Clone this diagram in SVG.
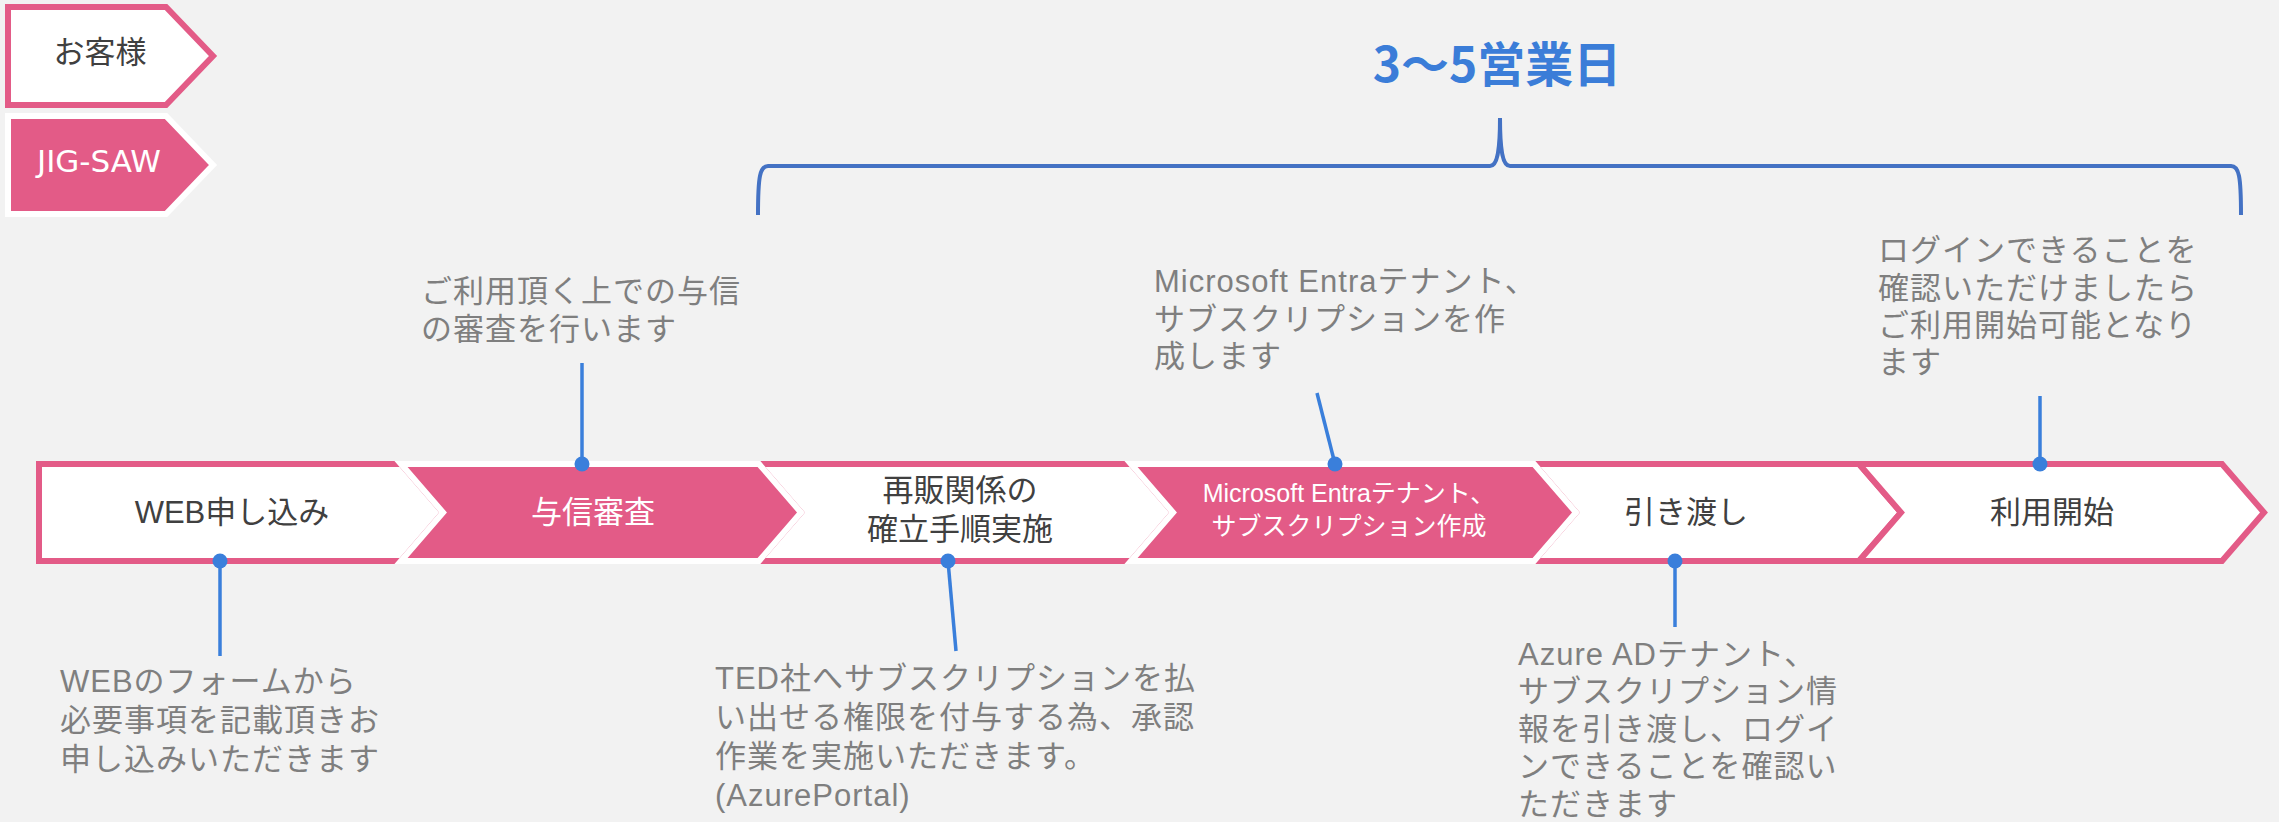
<svg xmlns="http://www.w3.org/2000/svg" width="2279" height="822" viewBox="0 0 2279 822">
<style>
.bg{fill:#F2F2F2}
.cw{fill:#FFFFFF;stroke:#E35B87;stroke-width:6;stroke-linejoin:miter}
.cp{fill:#E35B87;stroke:#FFFFFF;stroke-width:6;stroke-linejoin:miter}
.lbl{font-family:"Liberation Sans","Noto Sans CJK JP",sans-serif;font-size:31px;fill:#404040;text-anchor:middle}
.lblw{font-family:"Liberation Sans","Noto Sans CJK JP",sans-serif;font-size:31px;fill:#FFFFFF;text-anchor:middle}
.note{font-family:"Liberation Sans","Noto Sans CJK JP",sans-serif;font-size:31px;fill:#7F7F7F;letter-spacing:1px}
.conn{stroke:#3A7FDB;stroke-width:3.5;fill:none}
.dot{fill:#3A7FDB}
</style>
<rect class="bg" x="0" y="0" width="2279" height="822"/>

<g id="legend-customer">
<polygon class="cw" points="8,7 166,7 213,56 166,105 8,105" stroke-width="5"/>
<text class="lbl" x="100" y="63">お客様</text>
</g>
<g id="legend-jigsaw">
<polygon class="cp" points="8,116 166,116 213,165 166,214 8,214" stroke-width="5"/>
<text x="99" y="172" style="font-family:'DejaVu Sans','Noto Sans CJK JP',sans-serif;font-size:31px;fill:#FFFFFF;text-anchor:middle">JIG-SAW</text>
</g>

<g id="period">
<text x="1497" y="82" style="font-family:'Noto Sans CJK JP',sans-serif;font-size:48px;font-weight:bold;fill:#3B7DD8;text-anchor:middle">3〜5営業日</text>
<path d="M758,215 C758,176 760,166 768,166 L1490,166 C1497,166 1500,152 1500,118 C1500,152 1503,166 1510,166 L2231,166 C2239,166 2241,176 2241,215" fill="none" stroke="#4472C4" stroke-width="4"/>
</g>

<g id="step1-web">
<polygon class="cw" points="39,464 401,464 443,512.5 401,561 39,561"/>
<text class="lbl" x="232" y="523">WEB申し込み</text>
</g>
<g id="step3-resale">
<polygon class="cw" points="759,464 1131,464 1173,512.5 1131,561 759,561 801,512.5"/>
<text class="lbl" x="960" y="501">再販関係の<tspan x="960" dy="39">確立手順実施</tspan></text>
</g>
<g id="step5-handover">
<polygon class="cw" points="1534,464 1859,464 1901,512.5 1859,561 1534,561 1576,512.5"/>
<text class="lbl" x="1686" y="523">引き渡し</text>
</g>
<g id="step6-start">
<polygon class="cw" points="1859,464 2222,464 2264,512.5 2222,561 1859,561 1901,512.5"/>
<text class="lbl" x="2052" y="523">利用開始</text>
</g>
<g id="step2-credit">
<polygon class="cp" points="401,464 759,464 801,512.5 759,561 401,561 443,512.5"/>
<text class="lblw" x="593" y="523">与信審査</text>
</g>
<g id="step4-entra">
<polygon class="cp" points="1131,464 1534,464 1576,512.5 1534,561 1131,561 1173,512.5"/>
<text class="lblw" x="1349" y="502" style="font-size:25px">Microsoft Entraテナント、<tspan x="1349" dy="33">サブスクリプション作成</tspan></text>
</g>

<g id="connectors">
<line class="conn" x1="220" y1="561" x2="220" y2="656"/>
<circle class="dot" cx="220" cy="561" r="7.5"/>
<line class="conn" x1="582" y1="363" x2="582" y2="464"/>
<circle class="dot" cx="582" cy="464" r="7.5"/>
<line class="conn" x1="948" y1="561" x2="956" y2="651"/>
<circle class="dot" cx="948" cy="561" r="7.5"/>
<line class="conn" x1="1317" y1="393" x2="1335" y2="464"/>
<circle class="dot" cx="1335" cy="464" r="7.5"/>
<line class="conn" x1="1675" y1="561" x2="1675" y2="627"/>
<circle class="dot" cx="1675" cy="561" r="7.5"/>
<line class="conn" x1="2040" y1="396" x2="2040" y2="464"/>
<circle class="dot" cx="2040" cy="464" r="7.5"/>
</g>

<g id="note-credit">
<text class="note" x="421" y="302">ご利用頂く上での与信<tspan x="421" dy="38">の審査を行います</tspan></text>
</g>
<g id="note-entra">
<text class="note" x="1154" y="292">Microsoft Entraテナント、<tspan x="1154" dy="38">サブスクリプションを作</tspan><tspan x="1154" dy="37">成します</tspan></text>
</g>
<g id="note-start">
<text class="note" x="1878" y="261">ログインできることを<tspan x="1878" dy="38">確認いただけましたら</tspan><tspan x="1878" dy="37">ご利用開始可能となり</tspan><tspan x="1878" dy="37">ます</tspan></text>
</g>
<g id="note-web">
<text class="note" x="60" y="692">WEBのフォームから<tspan x="60" dy="39">必要事項を記載頂きお</tspan><tspan x="60" dy="39">申し込みいただきます</tspan></text>
</g>
<g id="note-resale">
<text class="note" x="715" y="689">TED社へサブスクリプションを払<tspan x="715" dy="39">い出せる権限を付与する為、承認</tspan><tspan x="715" dy="39">作業を実施いただきます。</tspan><tspan x="715" dy="39">(AzurePortal)</tspan></text>
</g>
<g id="note-handover">
<text class="note" x="1518" y="665">Azure ADテナント、<tspan x="1518" dy="37">サブスクリプション情</tspan><tspan x="1518" dy="38">報を引き渡し、ログイ</tspan><tspan x="1518" dy="37">ンできることを確認い</tspan><tspan x="1518" dy="38">ただきます</tspan></text>
</g>
</svg>
